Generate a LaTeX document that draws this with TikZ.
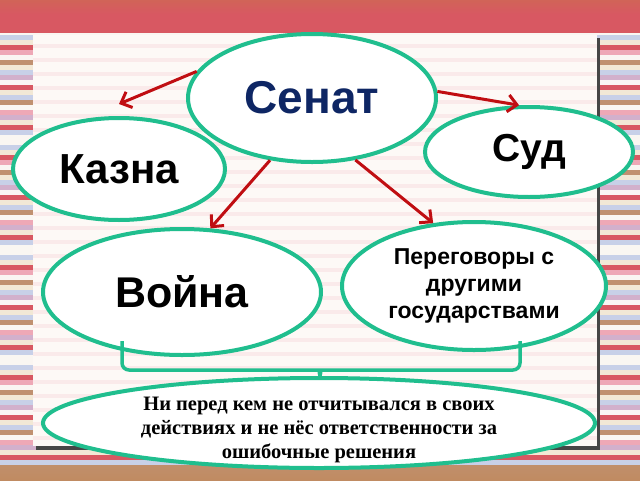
\documentclass[tikz,border=0pt]{standalone}
\usepackage{fontspec}
\setmainfont{Liberation Serif}
\newfontfamily\arialfont{Liberation Sans}
\usetikzlibrary{shapes.geometric,arrows.meta}

\definecolor{verde}{RGB}{32,190,142}
\definecolor{rojo}{RGB}{192,14,18}
\definecolor{azul}{RGB}{14,38,100}
\definecolor{fRojo}{RGB}{216,88,98}
\definecolor{fRosa}{RGB}{238,168,182}
\definecolor{fAzul}{RGB}{200,208,232}
\definecolor{fCrema}{RGB}{242,232,214}
\definecolor{fMarron}{RGB}{192,144,112}
\definecolor{fBlanco}{RGB}{250,246,242}
\definecolor{fLila}{RGB}{210,176,204}
\definecolor{fFondo}{RGB}{253,249,246}

\begin{document}
\begin{tikzpicture}[x=1pt, y=-1pt,
    ovalo/.style={ellipse, draw=verde, line width=4pt, fill=white, inner sep=0pt, align=center},
    flecha/.style={draw=rojo, line width=3pt, -{Straight Barb[length=9pt,width=17pt]}},
    llave/.style={draw=verde, line width=3.5pt, rounded corners=7pt}]

    \useasboundingbox (0,0) rectangle (640,480);

    % Franjas del fondo
    \foreach \k in {0,...,3}
      \foreach \c [count=\i] in {fBlanco,fAzul,fCrema,fRojo,fRosa,fBlanco,fMarron,fCrema,fAzul,fLila,fBlanco,fRojo,fCrema,fAzul,fMarron,fBlanco,fRosa,fLila,fCrema,fRojo,fAzul,fBlanco}
        \fill[\c] (0, 30+110*\k+5*\i-5) rectangle (640, 30+110*\k+5*\i);
    \shade[top color=fRojo!70!brown, bottom color=fRojo] (0,0) rectangle (640,14);
    \fill[fRojo] (0,14) rectangle (640,33);
    \shade[top color=fMarron!90!brown, bottom color=fMarron!70!brown] (0,465) rectangle (640,480);

    % Panel
    \fill[gray!55!black] (36,38) rectangle (600,450);
    \fill[fFondo] (33,35) rectangle (597,446);
    \foreach \y in {44,58,...,440}
      \fill[fRosa, opacity=0.18] (33,\y) rectangle (597,\y+4);

    % Elipses
    \node[ovalo, minimum width=248pt, minimum height=128pt, text=azul,
      font=\arialfont\bfseries\fontsize{46}{54}\selectfont] (senat) at (312,98) {Сенат};
    \node[ovalo, minimum width=212pt, minimum height=102pt,
      font=\arialfont\bfseries\fontsize{42}{48}\selectfont] (kazna) at (119,169) {Казна};
    \node[ovalo, minimum width=208pt, minimum height=90pt,
      font=\arialfont\bfseries\fontsize{39}{46}\selectfont] (sud) at (529,152) {Суд};
    \node[ovalo, minimum width=278pt, minimum height=126pt,
      font=\arialfont\bfseries\fontsize{43}{50}\selectfont] (voina) at (182,292) {Война};
    \node[ovalo, minimum width=264pt, minimum height=128pt,
      font=\arialfont\bfseries\fontsize{23}{27}\selectfont] (peregovory) at (474,286)
      {Переговоры с\\ другими\\ государствами};
    \node[ovalo, minimum width=552pt, minimum height=90pt,
      font=\bfseries\fontsize{20.5}{24}\selectfont] (itog) at (319,423)
      {\raisebox{-12pt}[0pt][0pt]{\begin{tabular}{@{}c@{}}Ни перед кем не отчитывался в своих\\ действиях и не нёс ответственности за\\ ошибочные решения\end{tabular}}};

    % Flechas
    \draw[flecha] (senat.167) -- ([yshift=12pt]kazna.north);
    \draw[flecha] (senat.3) -- (sud.102);
    \draw[flecha] (senat.236) -- (voina.66);
    \draw[flecha] (senat.305) -- (peregovory.123);

    % Llave
    \draw[llave] (122,341) -- (122,370) -- (313,370) to[out=0,in=90] (320,382)
      to[out=90,in=180] (327,370) -- (520,370) -- (520,341);

  \end{tikzpicture}
\end{document}
